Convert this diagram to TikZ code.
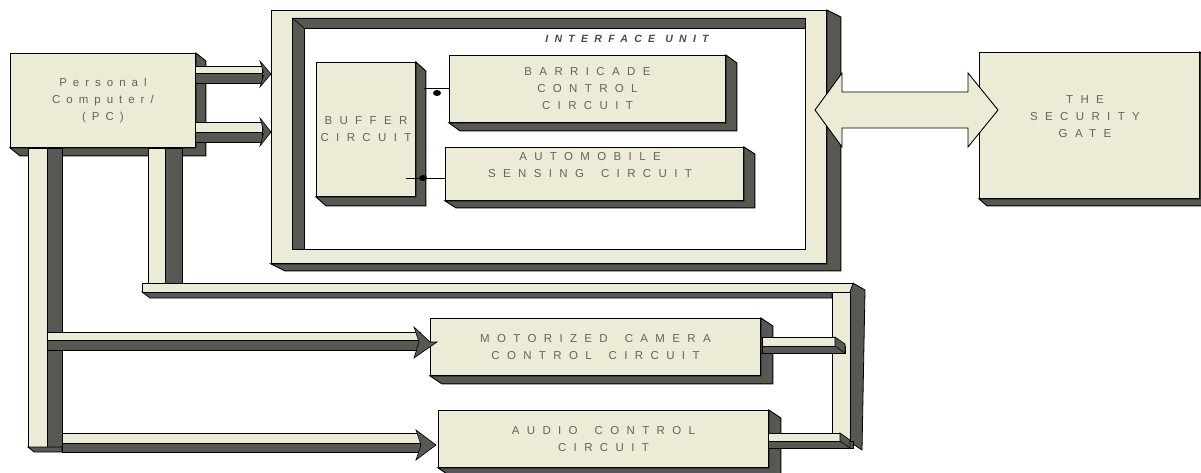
\documentclass[tikz,border=0pt]{standalone}
\usepackage{fontspec}
\setmainfont{Liberation Sans}
\definecolor{beige}{RGB}{235,235,214}
\definecolor{shade}{RGB}{88,88,82}
\definecolor{txtgray}{RGB}{100,100,90}
\newcommand\lsfont{\fontsize{11.5}{17}\selectfont\addfontfeature{LetterSpace=64}}
\newcommand\pcfont{\fontsize{11.5}{17}\selectfont\addfontfeature{LetterSpace=52}}
\newcommand\ifont{\fontsize{10.5}{12}\selectfont\itshape\bfseries\addfontfeature{LetterSpace=60}}
\newcommand\wsp{\hspace{17pt}}
\tikzset{
  box/.style={draw=black, line width=0.9pt, fill=beige, inner sep=0pt, anchor=north west,
              align=center, font=\lsfont, text=txtgray},
  ext/.style={draw=black, line width=0.9pt, fill=shade, line join=miter},
  lite/.style={draw=black, line width=0.8pt, fill=beige},
  dark/.style={draw=black, line width=0.8pt, fill=shade},
  lbl/.style={align=center, font=\lsfont, text=txtgray, inner sep=0pt},
  head/.style={draw=black, line width=0.6pt, fill=shade},
}
% name, x0, y0, x1, y1, dx, dy, text
\newcommand\tbox[8]{%
  \node[box, minimum width={#4-#2}, minimum height={#5-#3}] (#1) at (#2,#3) {#8};
  \path[ext] (#1.north east) -- ++(#6,#7) -- ([shift={(#6,#7)}]#1.south east)
     -- ([shift={(#6,#7)}]#1.south west) -- (#1.south west) -- (#1.south east) -- cycle;
}
\begin{document}
\begin{tikzpicture}[x=1pt,y=-1pt]
\useasboundingbox (0,0) rectangle (1201,473);

% ---------- interface unit ----------
\tbox{iface}{271}{10}{826}{263}{14}{7}{}
\filldraw[fill=white, draw=black, line width=0.9pt] (292,18) rectangle (805,249);
\filldraw[dark] (292,18) -- (805,18) -- (805,28) -- (304,28) -- (304,249) -- (292,249) -- cycle;
\draw[line width=0.6pt] (292,18) -- (304,28);
\node[font=\ifont, text=black!70, inner sep=0pt] (ifacetext) at (627,39) {INTERFACE\hspace{10pt}UNIT};

\tbox{buffer}{316}{62}{415}{196}{10}{9}{BUFFER\\CIRCUIT}
\tbox{barr}{449}{55}{725}{122}{11}{8}{BARRICADE\\CONTROL\\CIRCUIT}
\tbox{auto}{445}{147}{743}{200}{11}{7}{}
\node[lbl] (autotext) at (590,165) {AUTOMOBILE\\SENSING\wsp CIRCUIT};

\draw[line width=0.9pt] ([xshift=8pt]buffer.east |- barr.west) -- (barr.west);
\fill (437,93) ellipse [x radius=4, y radius=3];
\draw[line width=0.9pt] ([xshift=-10pt]buffer.east |- 0,178) -- (auto.west |- 0,178);
\fill (423,178) ellipse [x radius=4, y radius=3];

% ---------- security gate ----------
\tbox{gate}{979}{52}{1199}{198}{8}{7}{}
\node[lbl] (gatetext) at (1085,117) {THE\\SECURITY\\GATE};

% double arrow between interface and gate
\coordinate (dl) at (815,110);
\coordinate (dr) at (998,110);
\filldraw[lite, line width=0.9pt] (dl) -- (842,73) -- (842,92) -- (968,92) -- (968,73) -- (dr)
   -- (968,147) -- (968,128) -- (842,128) -- (842,147) -- cycle;

% ---------- personal computer ----------
\tbox{pc}{10}{53}{195}{147}{10}{8}{{\pcfont Personal}\\{\pcfont Computer/}\\{\pcfont (PC)}}

% PC -> interface pipes
\filldraw[lite] (195,66) rectangle (262,73);
\filldraw[dark] (195,73) rectangle (262,83);
\filldraw[head] (260,61) -- (iface.west |- 0,74) -- (260,87) -- (264,74) -- cycle;
\filldraw[lite] (195,122) rectangle (262,132);
\filldraw[dark] (195,132) rectangle (262,142);
\filldraw[head] (260,118) -- (iface.west |- 0,132) -- (260,146) -- (264,132) -- cycle;

% left vertical bus
\filldraw[lite] (28,148) rectangle (47,447);
\filldraw[dark] (47,148) rectangle (62,450);
\filldraw[dark] (28,447) -- (34,452) -- (62,452) -- (62,447) -- cycle;

% second vertical and upper horizontal bus
\filldraw[lite] (148,148) rectangle (165,283);
\filldraw[dark] (165,148) rectangle (182,283);
\filldraw[dark] (142,292) -- (150,298) -- (832,298) -- (832,292) -- cycle;
\filldraw[lite] (142,283) rectangle (853,292);
\filldraw[dark] (850,292) -- (853,283) -- (865,290) -- (862,450) -- (850,442) -- cycle;
\filldraw[lite] (832,292) rectangle (850,442);

% ---------- camera and audio ----------
\tbox{cam}{430}{318}{760}{375}{12}{8}{MOTORIZED\wsp CAMERA\\CONTROL\wsp CIRCUIT}
\tbox{audio}{438}{410}{768}{467}{12}{8}{AUDIO\wsp CONTROL\\CIRCUIT}

% PC -> camera
\filldraw[lite] (47,332) rectangle (420,340);
\filldraw[dark] (47,340) rectangle (420,350);
\filldraw[head] (414,327) -- (cam.west |- 0,342) -- ([xshift=7pt]cam.west |- 0,342) -- (414,358) -- (419,342) -- cycle;
% PC -> audio
\filldraw[lite] (62,433) rectangle (420,443);
\filldraw[dark] (62,443) rectangle (420,452);
\filldraw[head] (416,430) -- ([xshift=-2pt]audio.west |- 0,445) -- (416,460) -- (421,445) -- cycle;

% right bus -> camera / audio
\filldraw[dark] (762,346) -- (845,346) -- (845,353) -- (762,353) -- cycle;
\filldraw[lite] (762,337) rectangle (835,346);
\filldraw[head] (835,337) -- (845,344) -- (845,353) -- (835,346) -- cycle;
\filldraw[dark] (768,441) -- (853,441) -- (853,448) -- (768,448) -- cycle;
\filldraw[lite] (768,433) rectangle (840,441);
\filldraw[head] (840,433) -- (850,440) -- (850,448) -- (840,441) -- cycle;
\end{tikzpicture}
\end{document}
